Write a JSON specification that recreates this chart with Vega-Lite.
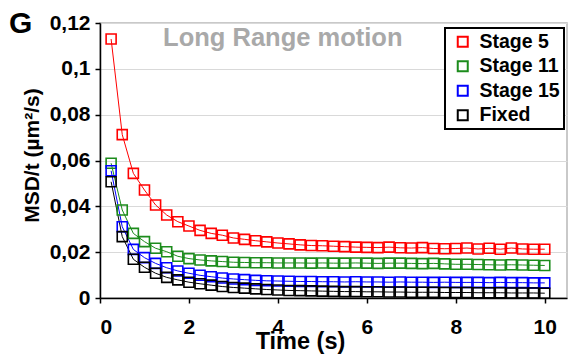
{
  "$schema": "https://vega.github.io/schema/vega-lite/v6.json",
  "width": 467,
  "height": 275,
  "autosize": {"type": "none"},
  "padding": {"left": 100, "top": 23, "right": 12, "bottom": 58},
  "background": "white",
  "config": {
    "font": "Liberation Sans",
    "view": {"stroke": "#b8b8b8", "strokeWidth": 1.5}
  },
  "title": {
    "text": "G",
    "anchor": "start",
    "frame": "bounds",
    "font": "Liberation Sans",
    "fontSize": 30,
    "fontWeight": "bold",
    "color": "black",
    "dx": -12,
    "dy": 31
  },
  "layer": [
    {
      "data": {
        "values": [
          {"s": "Stage 5", "t": 0.25, "v": 0.113}, {"s": "Stage 5", "t": 0.5, "v": 0.0713}, {"s": "Stage 5", "t": 0.75, "v": 0.0544}, {"s": "Stage 5", "t": 1.0, "v": 0.0471},
          {"s": "Stage 5", "t": 1.25, "v": 0.0406}, {"s": "Stage 5", "t": 1.5, "v": 0.0362}, {"s": "Stage 5", "t": 1.75, "v": 0.0333}, {"s": "Stage 5", "t": 2.0, "v": 0.0314},
          {"s": "Stage 5", "t": 2.25, "v": 0.0295}, {"s": "Stage 5", "t": 2.5, "v": 0.0282}, {"s": "Stage 5", "t": 2.75, "v": 0.0274}, {"s": "Stage 5", "t": 3.0, "v": 0.0262},
          {"s": "Stage 5", "t": 3.25, "v": 0.0256}, {"s": "Stage 5", "t": 3.5, "v": 0.025}, {"s": "Stage 5", "t": 3.75, "v": 0.0245}, {"s": "Stage 5", "t": 4.0, "v": 0.024},
          {"s": "Stage 5", "t": 4.25, "v": 0.0236}, {"s": "Stage 5", "t": 4.5, "v": 0.0232}, {"s": "Stage 5", "t": 4.75, "v": 0.0229}, {"s": "Stage 5", "t": 5.0, "v": 0.0228},
          {"s": "Stage 5", "t": 5.25, "v": 0.0226}, {"s": "Stage 5", "t": 5.5, "v": 0.0224}, {"s": "Stage 5", "t": 5.75, "v": 0.0222}, {"s": "Stage 5", "t": 6.0, "v": 0.0221},
          {"s": "Stage 5", "t": 6.25, "v": 0.022}, {"s": "Stage 5", "t": 6.5, "v": 0.0222}, {"s": "Stage 5", "t": 6.75, "v": 0.0219}, {"s": "Stage 5", "t": 7.0, "v": 0.0218},
          {"s": "Stage 5", "t": 7.25, "v": 0.022}, {"s": "Stage 5", "t": 7.5, "v": 0.0216}, {"s": "Stage 5", "t": 7.75, "v": 0.0215}, {"s": "Stage 5", "t": 8.0, "v": 0.0216},
          {"s": "Stage 5", "t": 8.25, "v": 0.0218}, {"s": "Stage 5", "t": 8.5, "v": 0.0214}, {"s": "Stage 5", "t": 8.75, "v": 0.0217}, {"s": "Stage 5", "t": 9.0, "v": 0.0213},
          {"s": "Stage 5", "t": 9.25, "v": 0.0218}, {"s": "Stage 5", "t": 9.5, "v": 0.0214}, {"s": "Stage 5", "t": 9.75, "v": 0.0213}, {"s": "Stage 5", "t": 10.0, "v": 0.0213},

          {"s": "Stage 11", "t": 0.25, "v": 0.0588}, {"s": "Stage 11", "t": 0.5, "v": 0.0384}, {"s": "Stage 11", "t": 0.75, "v": 0.0282}, {"s": "Stage 11", "t": 1.0, "v": 0.0246},
          {"s": "Stage 11", "t": 1.25, "v": 0.0217}, {"s": "Stage 11", "t": 1.5, "v": 0.0202}, {"s": "Stage 11", "t": 1.75, "v": 0.0182}, {"s": "Stage 11", "t": 2.0, "v": 0.0172},
          {"s": "Stage 11", "t": 2.25, "v": 0.0166}, {"s": "Stage 11", "t": 2.5, "v": 0.0162}, {"s": "Stage 11", "t": 2.75, "v": 0.0159}, {"s": "Stage 11", "t": 3.0, "v": 0.0156},
          {"s": "Stage 11", "t": 3.25, "v": 0.0155}, {"s": "Stage 11", "t": 3.5, "v": 0.0154}, {"s": "Stage 11", "t": 3.75, "v": 0.0154}, {"s": "Stage 11", "t": 4.0, "v": 0.0153},
          {"s": "Stage 11", "t": 4.25, "v": 0.0153}, {"s": "Stage 11", "t": 4.5, "v": 0.0153}, {"s": "Stage 11", "t": 4.75, "v": 0.0152}, {"s": "Stage 11", "t": 5.0, "v": 0.0153},
          {"s": "Stage 11", "t": 5.25, "v": 0.0152}, {"s": "Stage 11", "t": 5.5, "v": 0.0152}, {"s": "Stage 11", "t": 5.75, "v": 0.0153}, {"s": "Stage 11", "t": 6.0, "v": 0.0152},
          {"s": "Stage 11", "t": 6.25, "v": 0.0151}, {"s": "Stage 11", "t": 6.5, "v": 0.0152}, {"s": "Stage 11", "t": 6.75, "v": 0.0152}, {"s": "Stage 11", "t": 7.0, "v": 0.0151},
          {"s": "Stage 11", "t": 7.25, "v": 0.015}, {"s": "Stage 11", "t": 7.5, "v": 0.0151}, {"s": "Stage 11", "t": 7.75, "v": 0.0149}, {"s": "Stage 11", "t": 8.0, "v": 0.0147},
          {"s": "Stage 11", "t": 8.25, "v": 0.0147}, {"s": "Stage 11", "t": 8.5, "v": 0.0146}, {"s": "Stage 11", "t": 8.75, "v": 0.0145}, {"s": "Stage 11", "t": 9.0, "v": 0.0144},
          {"s": "Stage 11", "t": 9.25, "v": 0.0145}, {"s": "Stage 11", "t": 9.5, "v": 0.0144}, {"s": "Stage 11", "t": 9.75, "v": 0.0143}, {"s": "Stage 11", "t": 10.0, "v": 0.0142},

          {"s": "Stage 15", "t": 0.25, "v": 0.0555}, {"s": "Stage 15", "t": 0.5, "v": 0.0311}, {"s": "Stage 15", "t": 0.75, "v": 0.0212}, {"s": "Stage 15", "t": 1.0, "v": 0.0176},
          {"s": "Stage 15", "t": 1.25, "v": 0.0151}, {"s": "Stage 15", "t": 1.5, "v": 0.0132}, {"s": "Stage 15", "t": 1.75, "v": 0.0118}, {"s": "Stage 15", "t": 2.0, "v": 0.0108},
          {"s": "Stage 15", "t": 2.25, "v": 0.0099}, {"s": "Stage 15", "t": 2.5, "v": 0.0093}, {"s": "Stage 15", "t": 2.75, "v": 0.0087}, {"s": "Stage 15", "t": 3.0, "v": 0.0083},
          {"s": "Stage 15", "t": 3.25, "v": 0.008}, {"s": "Stage 15", "t": 3.5, "v": 0.0077}, {"s": "Stage 15", "t": 3.75, "v": 0.0075}, {"s": "Stage 15", "t": 4.0, "v": 0.0074},
          {"s": "Stage 15", "t": 4.25, "v": 0.0073}, {"s": "Stage 15", "t": 4.5, "v": 0.0072}, {"s": "Stage 15", "t": 4.75, "v": 0.0072}, {"s": "Stage 15", "t": 5.0, "v": 0.0071},
          {"s": "Stage 15", "t": 5.25, "v": 0.0071}, {"s": "Stage 15", "t": 5.5, "v": 0.007}, {"s": "Stage 15", "t": 5.75, "v": 0.0071}, {"s": "Stage 15", "t": 6.0, "v": 0.007},
          {"s": "Stage 15", "t": 6.25, "v": 0.007}, {"s": "Stage 15", "t": 6.5, "v": 0.0069}, {"s": "Stage 15", "t": 6.75, "v": 0.007}, {"s": "Stage 15", "t": 7.0, "v": 0.0069},
          {"s": "Stage 15", "t": 7.25, "v": 0.0069}, {"s": "Stage 15", "t": 7.5, "v": 0.0068}, {"s": "Stage 15", "t": 7.75, "v": 0.0069}, {"s": "Stage 15", "t": 8.0, "v": 0.0068},
          {"s": "Stage 15", "t": 8.25, "v": 0.0068}, {"s": "Stage 15", "t": 8.5, "v": 0.0068}, {"s": "Stage 15", "t": 8.75, "v": 0.0067}, {"s": "Stage 15", "t": 9.0, "v": 0.0068},
          {"s": "Stage 15", "t": 9.25, "v": 0.0067}, {"s": "Stage 15", "t": 9.5, "v": 0.0067}, {"s": "Stage 15", "t": 9.75, "v": 0.0066}, {"s": "Stage 15", "t": 10.0, "v": 0.0066},

          {"s": "Fixed", "t": 0.25, "v": 0.0507}, {"s": "Fixed", "t": 0.5, "v": 0.0268}, {"s": "Fixed", "t": 0.75, "v": 0.0169}, {"s": "Fixed", "t": 1.0, "v": 0.0134},
          {"s": "Fixed", "t": 1.25, "v": 0.0108}, {"s": "Fixed", "t": 1.5, "v": 0.009}, {"s": "Fixed", "t": 1.75, "v": 0.0079}, {"s": "Fixed", "t": 2.0, "v": 0.0069},
          {"s": "Fixed", "t": 2.25, "v": 0.0062}, {"s": "Fixed", "t": 2.5, "v": 0.0056}, {"s": "Fixed", "t": 2.75, "v": 0.005}, {"s": "Fixed", "t": 3.0, "v": 0.0046},
          {"s": "Fixed", "t": 3.25, "v": 0.0043}, {"s": "Fixed", "t": 3.5, "v": 0.004}, {"s": "Fixed", "t": 3.75, "v": 0.0037}, {"s": "Fixed", "t": 4.0, "v": 0.0035},
          {"s": "Fixed", "t": 4.25, "v": 0.0033}, {"s": "Fixed", "t": 4.5, "v": 0.0032}, {"s": "Fixed", "t": 4.75, "v": 0.0031}, {"s": "Fixed", "t": 5.0, "v": 0.003},
          {"s": "Fixed", "t": 5.25, "v": 0.0029}, {"s": "Fixed", "t": 5.5, "v": 0.0028}, {"s": "Fixed", "t": 5.75, "v": 0.0028}, {"s": "Fixed", "t": 6.0, "v": 0.0027},
          {"s": "Fixed", "t": 6.25, "v": 0.0027}, {"s": "Fixed", "t": 6.5, "v": 0.0026}, {"s": "Fixed", "t": 6.75, "v": 0.0026}, {"s": "Fixed", "t": 7.0, "v": 0.0025},
          {"s": "Fixed", "t": 7.25, "v": 0.0025}, {"s": "Fixed", "t": 7.5, "v": 0.0025}, {"s": "Fixed", "t": 7.75, "v": 0.0024}, {"s": "Fixed", "t": 8.0, "v": 0.0024},
          {"s": "Fixed", "t": 8.25, "v": 0.0024}, {"s": "Fixed", "t": 8.5, "v": 0.0023}, {"s": "Fixed", "t": 8.75, "v": 0.0023}, {"s": "Fixed", "t": 9.0, "v": 0.0023},
          {"s": "Fixed", "t": 9.25, "v": 0.0022}, {"s": "Fixed", "t": 9.5, "v": 0.0022}, {"s": "Fixed", "t": 9.75, "v": 0.0022}, {"s": "Fixed", "t": 10.0, "v": 0.0021}
        ]
      },
      "encoding": {
        "x": {
          "field": "t",
          "type": "quantitative",
          "scale": {"domain": [0, 10.5], "nice": false, "zero": true},
          "axis": {
            "title": "Time (s)",
            "values": [0, 2, 4, 6, 8, 10],
            "grid": false,
            "domainColor": "black",
            "domainWidth": 1.5,
            "tickColor": "black",
            "tickWidth": 1.5,
            "tickSize": 5,
            "labelFont": "Liberation Sans",
            "labelFontSize": 21,
            "labelFontWeight": "bold",
            "labelColor": "black",
            "labelPadding": 13,
            "titleFont": "Liberation Sans",
            "titleFontSize": 23.5,
            "titleFontWeight": "bold",
            "titleColor": "black",
            "titleX": 200,
            "titleY": 50,
            "titleBaseline": "alphabetic",
            "titleAnchor": null,
            "titleAlign": "center"
          }
        },
        "y": {
          "field": "v",
          "type": "quantitative",
          "scale": {"domain": [0, 0.12], "nice": false},
          "axis": {
            "title": "MSD/t (µm²/s)",
            "values": [0, 0.02, 0.04, 0.06, 0.08, 0.1, 0.12],
            "labelExpr": "replace(format(datum.value, '.2~f'), '.', ',')",
            "grid": true,
            "gridColor": "#d9d9d9",
            "gridWidth": 1.2,
            "domainColor": "black",
            "domainWidth": 1.5,
            "tickColor": "black",
            "tickWidth": 1.5,
            "tickSize": 5,
            "labelFont": "Liberation Sans",
            "labelFontSize": 21,
            "labelFontWeight": "bold",
            "labelColor": "black",
            "labelPadding": 5,
            "titleFont": "Liberation Sans",
            "titleFontSize": 21,
            "titleFontWeight": "bold",
            "titleColor": "black",
            "titleAngle": -90,
            "titleX": -68,
            "titleY": 132,
            "titleAlign": "center",
            "titleBaseline": "middle",
            "titleAnchor": null
          }
        },
        "color": {
          "field": "s",
          "type": "nominal",
          "scale": {
            "domain": ["Stage 5", "Stage 11", "Stage 15", "Fixed"],
            "range": ["#ff0000", "#1c8c1c", "#0000ff", "#000000"]
          },
          "legend": {
            "title": null,
            "orient": "none",
            "legendX": 345,
            "legendY": 5,
            "direction": "vertical",
            "fillColor": "white",
            "strokeColor": "black",
            "padding": 4,
            "symbolType": "square",
            "symbolSize": 100,
            "symbolStrokeWidth": 2,
            "symbolFillColor": "white",
            "symbolOffset": 4,
            "labelFont": "Liberation Sans",
            "labelFontSize": 19.5,
            "labelFontWeight": "bold",
            "labelColor": "black",
            "labelOffset": 7,
            "rowPadding": 3.5,
            "encode": {
              "legend": {"update": {"strokeWidth": {"value": 2}}}
            }
          }
        }
      },
      "layer": [
        {"mark": {"type": "line", "strokeWidth": 1}},
        {"mark": {"type": "point", "shape": "square", "filled": false, "size": 100, "strokeWidth": 1.6, "opacity": 1}}
      ]
    },
    {
      "data": {"values": [{}]},
      "mark": {
        "type": "text",
        "text": "Long Range motion",
        "font": "Liberation Sans",
        "fontSize": 25.5,
        "fontWeight": "bold",
        "fill": "#a9a9a9",
        "align": "center",
        "baseline": "alphabetic"
      },
      "encoding": {
        "x": {"datum": 4.11, "type": "quantitative"},
        "y": {"datum": 0.1101, "type": "quantitative"}
      }
    }
  ]
}
